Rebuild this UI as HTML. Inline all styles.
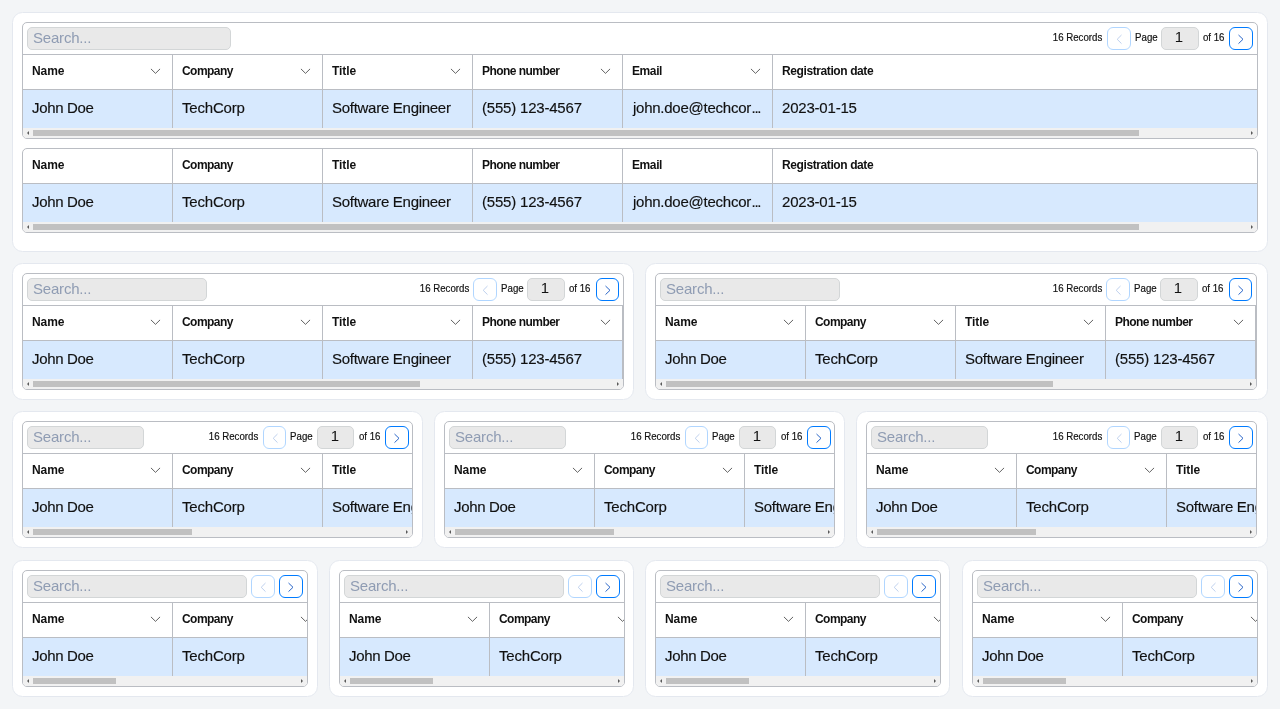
<!DOCTYPE html>
<html><head><meta charset="utf-8"><title>Tables</title>
<style>
*{box-sizing:border-box;margin:0;padding:0}
html,body{width:1280px;height:709px;overflow:hidden}
body{background:#f3f5f7;font-family:"Liberation Sans",sans-serif;color:#111;position:relative}
.card{will-change:transform;position:absolute;background:#fff;border:1px solid #e4e8ef;border-radius:10.5px}
.frame{position:absolute;left:9px;border:1px solid #babdc3;border-radius:5px;overflow:hidden;background:#fff}
.tb{height:32px;border-bottom:1px solid #babdc3;position:relative;display:flex;align-items:flex-start;justify-content:space-between;padding:4px 4px 0 4px}
.search{height:23px;background:#e9e9e9;border:1px solid #d3d6d7;border-radius:5px;padding-left:5px;padding-bottom:2px;display:flex;align-items:center;color:#8f9cb3;font-size:15px;letter-spacing:-0.2px}
.pager{display:flex;align-items:center;gap:4px;height:23px}
.pt{font-size:11px;color:#111;white-space:nowrap;position:relative;top:-1px;height:13px}
.pt em{-webkit-text-stroke:0.2px #111;font-style:normal;position:absolute;right:0;top:0;line-height:13px;transform:scaleX(.88);transform-origin:100% 50%}
.rec{width:49px}.pg{width:22px;left:0.5px}.of{width:22px}
.rec em,.of em{right:1px}
.pb{width:24px;height:23px;border:1px solid #007bff;border-radius:6px;display:flex;align-items:center;justify-content:center;background:#fff}
.pb.prev{opacity:.3}
.pi{width:38px;height:23px;background:#e9e9e9;border:1px solid #d3d6d7;border-radius:5px;display:flex;align-items:center;justify-content:center;font-size:15px;padding:0 2px 4px 0}
.hr,.dr{display:flex;width:100%;overflow:hidden}
.hr{height:35px;border-bottom:1px solid #babdc3}
.dr{height:38px;background:#d7e9fe}
.hc,.dc{flex:0 0 150px;width:150px;border-right:1px solid #babdc3;padding-left:9px;display:flex;align-items:center;position:relative;white-space:nowrap;overflow:hidden}
.hc{padding-bottom:2px;font-weight:bold;font-size:12px;letter-spacing:-0.4px}
.dc{-webkit-text-stroke:0.15px #111;padding-bottom:4px;font-size:15px;letter-spacing:-0.2px}
.chev{position:absolute;right:11px;top:13px}
.sb{height:10px;background:#f1f1f1;position:relative}
.sb b{position:absolute;left:10px;top:2px;height:6px;background:#c1c1c1}
.sb i{position:absolute;top:2.75px;width:0;height:0;border:2.25px solid transparent}
.sb .al{left:3.75px;border-right:2.5px solid #5a5a5a;border-left:none}
.sb .ar{right:3.75px;border-left:2.5px solid #5a5a5a;border-right:none}
.hc:nth-child(1){letter-spacing:-0.1px}.hc:nth-child(2){letter-spacing:-0.55px}.hc:nth-child(3){letter-spacing:-0.1px}.hc:nth-child(4){letter-spacing:-0.55px}
.dc:nth-child(1){letter-spacing:-0.35px}.dc:nth-child(3){letter-spacing:-0.28px}.dc:nth-child(5){letter-spacing:-0.25px;padding-left:10px}
.dc u{text-decoration:none;letter-spacing:-1.3px;margin-left:0.6px}
.r3 .pb.prev{width:23px;margin-right:1px}.r3 .pg{left:-0.5px}.r3 .pi{width:37px;margin-right:1px;padding-right:1px}
.r2 .pb.next{width:23px;margin-left:1px}.r2 .rec em{right:0}

</style></head>
<body>
<div class="card" style="left:12px;top:12px;width:1256px;height:240px">
<div class="frame" style="top:9px;width:1236px">
<div class="tb">
<div class="search" style="width:204px"><span>Search...</span></div>
<div class="pager">
<span class="pt rec"><em>16 Records</em></span>
<span class="pb prev"><svg width="8" height="12" viewBox="0 0 8 12"><path d="M6.5 2.0 L2.2 6.3 L6.5 10.6" fill="none" stroke="#2a66c8" stroke-width="1"/></svg></span>
<span class="pt pg"><em>Page</em></span><span class="pi">1</span><span class="pt of"><em>of 16</em></span>
<span class="pb next"><svg width="8" height="12" viewBox="0 0 8 12"><path d="M1.5 2.0 L6.0 6.3 L1.5 10.6" fill="none" stroke="#2a66c8" stroke-width="1"/></svg></span>
</div></div>
<div class="hr">
<div class="hc"><span>Name</span><svg class="chev" width="11" height="7" viewBox="0 0 11 7"><path d="M0.95 0.9 L5.5 5.35 L10.05 0.9" fill="none" stroke="#444" stroke-width="0.85"/></svg></div>
<div class="hc"><span>Company</span><svg class="chev" width="11" height="7" viewBox="0 0 11 7"><path d="M0.95 0.9 L5.5 5.35 L10.05 0.9" fill="none" stroke="#444" stroke-width="0.85"/></svg></div>
<div class="hc"><span>Title</span><svg class="chev" width="11" height="7" viewBox="0 0 11 7"><path d="M0.95 0.9 L5.5 5.35 L10.05 0.9" fill="none" stroke="#444" stroke-width="0.85"/></svg></div>
<div class="hc"><span>Phone number</span><svg class="chev" width="11" height="7" viewBox="0 0 11 7"><path d="M0.95 0.9 L5.5 5.35 L10.05 0.9" fill="none" stroke="#444" stroke-width="0.85"/></svg></div>
<div class="hc"><span>Email</span><svg class="chev" width="11" height="7" viewBox="0 0 11 7"><path d="M0.95 0.9 L5.5 5.35 L10.05 0.9" fill="none" stroke="#444" stroke-width="0.85"/></svg></div>
<div class="hc" style="flex:1 0 150px;border-right:none"><span>Registration date</span></div>
</div>
<div class="dr">
<div class="dc"><span>John Doe</span></div>
<div class="dc"><span>TechCorp</span></div>
<div class="dc"><span>Software Engineer</span></div>
<div class="dc"><span>(555) 123-4567</span></div>
<div class="dc"><span>john.doe@techcor<u>...</u></span></div>
<div class="dc" style="flex:1 0 150px;border-right:none"><span>2023-01-15</span></div>
</div>
<div class="sb"><i class="al"></i><b style="width:1106px"></b><i class="ar"></i></div>
</div><div class="frame" style="top:135px;width:1236px">
<div class="hr">
<div class="hc"><span>Name</span></div>
<div class="hc"><span>Company</span></div>
<div class="hc"><span>Title</span></div>
<div class="hc"><span>Phone number</span></div>
<div class="hc"><span>Email</span></div>
<div class="hc" style="flex:1 0 150px;border-right:none"><span>Registration date</span></div>
</div>
<div class="dr">
<div class="dc"><span>John Doe</span></div>
<div class="dc"><span>TechCorp</span></div>
<div class="dc"><span>Software Engineer</span></div>
<div class="dc"><span>(555) 123-4567</span></div>
<div class="dc"><span>john.doe@techcor<u>...</u></span></div>
<div class="dc" style="flex:1 0 150px;border-right:none"><span>2023-01-15</span></div>
</div>
<div class="sb"><i class="al"></i><b style="width:1106px"></b><i class="ar"></i></div>
</div>
</div>
<div class="card" style="left:12px;top:263px;width:622px;height:137px">
<div class="frame r2" style="top:9px;width:602px">
<div class="tb">
<div class="search" style="width:180px"><span>Search...</span></div>
<div class="pager">
<span class="pt rec"><em>16 Records</em></span>
<span class="pb prev"><svg width="8" height="12" viewBox="0 0 8 12"><path d="M6.5 2.0 L2.2 6.3 L6.5 10.6" fill="none" stroke="#2a66c8" stroke-width="1"/></svg></span>
<span class="pt pg"><em>Page</em></span><span class="pi">1</span><span class="pt of"><em>of 16</em></span>
<span class="pb next"><svg width="8" height="12" viewBox="0 0 8 12"><path d="M1.5 2.0 L6.0 6.3 L1.5 10.6" fill="none" stroke="#2a66c8" stroke-width="1"/></svg></span>
</div></div>
<div class="hr">
<div class="hc"><span>Name</span><svg class="chev" width="11" height="7" viewBox="0 0 11 7"><path d="M0.95 0.9 L5.5 5.35 L10.05 0.9" fill="none" stroke="#444" stroke-width="0.85"/></svg></div>
<div class="hc"><span>Company</span><svg class="chev" width="11" height="7" viewBox="0 0 11 7"><path d="M0.95 0.9 L5.5 5.35 L10.05 0.9" fill="none" stroke="#444" stroke-width="0.85"/></svg></div>
<div class="hc"><span>Title</span><svg class="chev" width="11" height="7" viewBox="0 0 11 7"><path d="M0.95 0.9 L5.5 5.35 L10.05 0.9" fill="none" stroke="#444" stroke-width="0.85"/></svg></div>
<div class="hc"><span>Phone number</span><svg class="chev" width="11" height="7" viewBox="0 0 11 7"><path d="M0.95 0.9 L5.5 5.35 L10.05 0.9" fill="none" stroke="#444" stroke-width="0.85"/></svg></div>
<div class="hc"><span>Email</span><svg class="chev" width="11" height="7" viewBox="0 0 11 7"><path d="M0.95 0.9 L5.5 5.35 L10.05 0.9" fill="none" stroke="#444" stroke-width="0.85"/></svg></div>
<div class="hc"><span>Registration date</span></div>
</div>
<div class="dr">
<div class="dc"><span>John Doe</span></div>
<div class="dc"><span>TechCorp</span></div>
<div class="dc"><span>Software Engineer</span></div>
<div class="dc"><span>(555) 123-4567</span></div>
<div class="dc"><span>john.doe@techcor<u>...</u></span></div>
<div class="dc"><span>2023-01-15</span></div>
</div>
<div class="sb"><i class="al"></i><b style="width:387px"></b><i class="ar"></i></div>
</div>
</div>
<div class="card" style="left:645px;top:263px;width:623px;height:137px">
<div class="frame r2" style="top:9px;width:602px">
<div class="tb">
<div class="search" style="width:180px"><span>Search...</span></div>
<div class="pager">
<span class="pt rec"><em>16 Records</em></span>
<span class="pb prev"><svg width="8" height="12" viewBox="0 0 8 12"><path d="M6.5 2.0 L2.2 6.3 L6.5 10.6" fill="none" stroke="#2a66c8" stroke-width="1"/></svg></span>
<span class="pt pg"><em>Page</em></span><span class="pi">1</span><span class="pt of"><em>of 16</em></span>
<span class="pb next"><svg width="8" height="12" viewBox="0 0 8 12"><path d="M1.5 2.0 L6.0 6.3 L1.5 10.6" fill="none" stroke="#2a66c8" stroke-width="1"/></svg></span>
</div></div>
<div class="hr">
<div class="hc"><span>Name</span><svg class="chev" width="11" height="7" viewBox="0 0 11 7"><path d="M0.95 0.9 L5.5 5.35 L10.05 0.9" fill="none" stroke="#444" stroke-width="0.85"/></svg></div>
<div class="hc"><span>Company</span><svg class="chev" width="11" height="7" viewBox="0 0 11 7"><path d="M0.95 0.9 L5.5 5.35 L10.05 0.9" fill="none" stroke="#444" stroke-width="0.85"/></svg></div>
<div class="hc"><span>Title</span><svg class="chev" width="11" height="7" viewBox="0 0 11 7"><path d="M0.95 0.9 L5.5 5.35 L10.05 0.9" fill="none" stroke="#444" stroke-width="0.85"/></svg></div>
<div class="hc"><span>Phone number</span><svg class="chev" width="11" height="7" viewBox="0 0 11 7"><path d="M0.95 0.9 L5.5 5.35 L10.05 0.9" fill="none" stroke="#444" stroke-width="0.85"/></svg></div>
<div class="hc"><span>Email</span><svg class="chev" width="11" height="7" viewBox="0 0 11 7"><path d="M0.95 0.9 L5.5 5.35 L10.05 0.9" fill="none" stroke="#444" stroke-width="0.85"/></svg></div>
<div class="hc"><span>Registration date</span></div>
</div>
<div class="dr">
<div class="dc"><span>John Doe</span></div>
<div class="dc"><span>TechCorp</span></div>
<div class="dc"><span>Software Engineer</span></div>
<div class="dc"><span>(555) 123-4567</span></div>
<div class="dc"><span>john.doe@techcor<u>...</u></span></div>
<div class="dc"><span>2023-01-15</span></div>
</div>
<div class="sb"><i class="al"></i><b style="width:387px"></b><i class="ar"></i></div>
</div>
</div>
<div class="card" style="left:12px;top:411px;width:411px;height:137px">
<div class="frame r3" style="top:9px;width:391px">
<div class="tb">
<div class="search" style="width:117px"><span>Search...</span></div>
<div class="pager" style="margin-right:-1px">
<span class="pt rec"><em>16 Records</em></span>
<span class="pb prev"><svg width="8" height="12" viewBox="0 0 8 12"><path d="M6.5 2.0 L2.2 6.3 L6.5 10.6" fill="none" stroke="#2a66c8" stroke-width="1"/></svg></span>
<span class="pt pg"><em>Page</em></span><span class="pi">1</span><span class="pt of"><em>of 16</em></span>
<span class="pb next"><svg width="8" height="12" viewBox="0 0 8 12"><path d="M1.5 2.0 L6.0 6.3 L1.5 10.6" fill="none" stroke="#2a66c8" stroke-width="1"/></svg></span>
</div></div>
<div class="hr">
<div class="hc"><span>Name</span><svg class="chev" width="11" height="7" viewBox="0 0 11 7"><path d="M0.95 0.9 L5.5 5.35 L10.05 0.9" fill="none" stroke="#444" stroke-width="0.85"/></svg></div>
<div class="hc"><span>Company</span><svg class="chev" width="11" height="7" viewBox="0 0 11 7"><path d="M0.95 0.9 L5.5 5.35 L10.05 0.9" fill="none" stroke="#444" stroke-width="0.85"/></svg></div>
<div class="hc"><span>Title</span><svg class="chev" width="11" height="7" viewBox="0 0 11 7"><path d="M0.95 0.9 L5.5 5.35 L10.05 0.9" fill="none" stroke="#444" stroke-width="0.85"/></svg></div>
<div class="hc"><span>Phone number</span><svg class="chev" width="11" height="7" viewBox="0 0 11 7"><path d="M0.95 0.9 L5.5 5.35 L10.05 0.9" fill="none" stroke="#444" stroke-width="0.85"/></svg></div>
<div class="hc"><span>Email</span><svg class="chev" width="11" height="7" viewBox="0 0 11 7"><path d="M0.95 0.9 L5.5 5.35 L10.05 0.9" fill="none" stroke="#444" stroke-width="0.85"/></svg></div>
<div class="hc"><span>Registration date</span></div>
</div>
<div class="dr">
<div class="dc"><span>John Doe</span></div>
<div class="dc"><span>TechCorp</span></div>
<div class="dc"><span>Software Engineer</span></div>
<div class="dc"><span>(555) 123-4567</span></div>
<div class="dc"><span>john.doe@techcor<u>...</u></span></div>
<div class="dc"><span>2023-01-15</span></div>
</div>
<div class="sb"><i class="al"></i><b style="width:159px"></b><i class="ar"></i></div>
</div>
</div>
<div class="card" style="left:434px;top:411px;width:411px;height:137px">
<div class="frame r3" style="top:9px;width:391px">
<div class="tb">
<div class="search" style="width:117px"><span>Search...</span></div>
<div class="pager" style="margin-right:-1px">
<span class="pt rec"><em>16 Records</em></span>
<span class="pb prev"><svg width="8" height="12" viewBox="0 0 8 12"><path d="M6.5 2.0 L2.2 6.3 L6.5 10.6" fill="none" stroke="#2a66c8" stroke-width="1"/></svg></span>
<span class="pt pg"><em>Page</em></span><span class="pi">1</span><span class="pt of"><em>of 16</em></span>
<span class="pb next"><svg width="8" height="12" viewBox="0 0 8 12"><path d="M1.5 2.0 L6.0 6.3 L1.5 10.6" fill="none" stroke="#2a66c8" stroke-width="1"/></svg></span>
</div></div>
<div class="hr">
<div class="hc"><span>Name</span><svg class="chev" width="11" height="7" viewBox="0 0 11 7"><path d="M0.95 0.9 L5.5 5.35 L10.05 0.9" fill="none" stroke="#444" stroke-width="0.85"/></svg></div>
<div class="hc"><span>Company</span><svg class="chev" width="11" height="7" viewBox="0 0 11 7"><path d="M0.95 0.9 L5.5 5.35 L10.05 0.9" fill="none" stroke="#444" stroke-width="0.85"/></svg></div>
<div class="hc"><span>Title</span><svg class="chev" width="11" height="7" viewBox="0 0 11 7"><path d="M0.95 0.9 L5.5 5.35 L10.05 0.9" fill="none" stroke="#444" stroke-width="0.85"/></svg></div>
<div class="hc"><span>Phone number</span><svg class="chev" width="11" height="7" viewBox="0 0 11 7"><path d="M0.95 0.9 L5.5 5.35 L10.05 0.9" fill="none" stroke="#444" stroke-width="0.85"/></svg></div>
<div class="hc"><span>Email</span><svg class="chev" width="11" height="7" viewBox="0 0 11 7"><path d="M0.95 0.9 L5.5 5.35 L10.05 0.9" fill="none" stroke="#444" stroke-width="0.85"/></svg></div>
<div class="hc"><span>Registration date</span></div>
</div>
<div class="dr">
<div class="dc"><span>John Doe</span></div>
<div class="dc"><span>TechCorp</span></div>
<div class="dc"><span>Software Engineer</span></div>
<div class="dc"><span>(555) 123-4567</span></div>
<div class="dc"><span>john.doe@techcor<u>...</u></span></div>
<div class="dc"><span>2023-01-15</span></div>
</div>
<div class="sb"><i class="al"></i><b style="width:159px"></b><i class="ar"></i></div>
</div>
</div>
<div class="card" style="left:856px;top:411px;width:412px;height:137px">
<div class="frame r3" style="top:9px;width:391px">
<div class="tb">
<div class="search" style="width:117px"><span>Search...</span></div>
<div class="pager" style="margin-right:-1px">
<span class="pt rec"><em>16 Records</em></span>
<span class="pb prev"><svg width="8" height="12" viewBox="0 0 8 12"><path d="M6.5 2.0 L2.2 6.3 L6.5 10.6" fill="none" stroke="#2a66c8" stroke-width="1"/></svg></span>
<span class="pt pg"><em>Page</em></span><span class="pi">1</span><span class="pt of"><em>of 16</em></span>
<span class="pb next"><svg width="8" height="12" viewBox="0 0 8 12"><path d="M1.5 2.0 L6.0 6.3 L1.5 10.6" fill="none" stroke="#2a66c8" stroke-width="1"/></svg></span>
</div></div>
<div class="hr">
<div class="hc"><span>Name</span><svg class="chev" width="11" height="7" viewBox="0 0 11 7"><path d="M0.95 0.9 L5.5 5.35 L10.05 0.9" fill="none" stroke="#444" stroke-width="0.85"/></svg></div>
<div class="hc"><span>Company</span><svg class="chev" width="11" height="7" viewBox="0 0 11 7"><path d="M0.95 0.9 L5.5 5.35 L10.05 0.9" fill="none" stroke="#444" stroke-width="0.85"/></svg></div>
<div class="hc"><span>Title</span><svg class="chev" width="11" height="7" viewBox="0 0 11 7"><path d="M0.95 0.9 L5.5 5.35 L10.05 0.9" fill="none" stroke="#444" stroke-width="0.85"/></svg></div>
<div class="hc"><span>Phone number</span><svg class="chev" width="11" height="7" viewBox="0 0 11 7"><path d="M0.95 0.9 L5.5 5.35 L10.05 0.9" fill="none" stroke="#444" stroke-width="0.85"/></svg></div>
<div class="hc"><span>Email</span><svg class="chev" width="11" height="7" viewBox="0 0 11 7"><path d="M0.95 0.9 L5.5 5.35 L10.05 0.9" fill="none" stroke="#444" stroke-width="0.85"/></svg></div>
<div class="hc"><span>Registration date</span></div>
</div>
<div class="dr">
<div class="dc"><span>John Doe</span></div>
<div class="dc"><span>TechCorp</span></div>
<div class="dc"><span>Software Engineer</span></div>
<div class="dc"><span>(555) 123-4567</span></div>
<div class="dc"><span>john.doe@techcor<u>...</u></span></div>
<div class="dc"><span>2023-01-15</span></div>
</div>
<div class="sb"><i class="al"></i><b style="width:159px"></b><i class="ar"></i></div>
</div>
</div>
<div class="card" style="left:12px;top:560px;width:306px;height:137px">
<div class="frame" style="top:9px;width:286px">
<div class="tb">
<div class="search" style="width:220px"><span>Search...</span></div>
<div class="pager">
<span class="pb prev"><svg width="8" height="12" viewBox="0 0 8 12"><path d="M6.5 2.0 L2.2 6.3 L6.5 10.6" fill="none" stroke="#2a66c8" stroke-width="1"/></svg></span>
<span class="pb next"><svg width="8" height="12" viewBox="0 0 8 12"><path d="M1.5 2.0 L6.0 6.3 L1.5 10.6" fill="none" stroke="#2a66c8" stroke-width="1"/></svg></span>
</div></div>
<div class="hr">
<div class="hc"><span>Name</span><svg class="chev" width="11" height="7" viewBox="0 0 11 7"><path d="M0.95 0.9 L5.5 5.35 L10.05 0.9" fill="none" stroke="#444" stroke-width="0.85"/></svg></div>
<div class="hc"><span>Company</span><svg class="chev" width="11" height="7" viewBox="0 0 11 7"><path d="M0.95 0.9 L5.5 5.35 L10.05 0.9" fill="none" stroke="#444" stroke-width="0.85"/></svg></div>
<div class="hc"><span>Title</span><svg class="chev" width="11" height="7" viewBox="0 0 11 7"><path d="M0.95 0.9 L5.5 5.35 L10.05 0.9" fill="none" stroke="#444" stroke-width="0.85"/></svg></div>
<div class="hc"><span>Phone number</span><svg class="chev" width="11" height="7" viewBox="0 0 11 7"><path d="M0.95 0.9 L5.5 5.35 L10.05 0.9" fill="none" stroke="#444" stroke-width="0.85"/></svg></div>
<div class="hc"><span>Email</span><svg class="chev" width="11" height="7" viewBox="0 0 11 7"><path d="M0.95 0.9 L5.5 5.35 L10.05 0.9" fill="none" stroke="#444" stroke-width="0.85"/></svg></div>
<div class="hc"><span>Registration date</span></div>
</div>
<div class="dr">
<div class="dc"><span>John Doe</span></div>
<div class="dc"><span>TechCorp</span></div>
<div class="dc"><span>Software Engineer</span></div>
<div class="dc"><span>(555) 123-4567</span></div>
<div class="dc"><span>john.doe@techcor<u>...</u></span></div>
<div class="dc"><span>2023-01-15</span></div>
</div>
<div class="sb"><i class="al"></i><b style="width:83px"></b><i class="ar"></i></div>
</div>
</div>
<div class="card" style="left:329px;top:560px;width:305px;height:137px">
<div class="frame" style="top:9px;width:286px">
<div class="tb">
<div class="search" style="width:220px"><span>Search...</span></div>
<div class="pager">
<span class="pb prev"><svg width="8" height="12" viewBox="0 0 8 12"><path d="M6.5 2.0 L2.2 6.3 L6.5 10.6" fill="none" stroke="#2a66c8" stroke-width="1"/></svg></span>
<span class="pb next"><svg width="8" height="12" viewBox="0 0 8 12"><path d="M1.5 2.0 L6.0 6.3 L1.5 10.6" fill="none" stroke="#2a66c8" stroke-width="1"/></svg></span>
</div></div>
<div class="hr">
<div class="hc"><span>Name</span><svg class="chev" width="11" height="7" viewBox="0 0 11 7"><path d="M0.95 0.9 L5.5 5.35 L10.05 0.9" fill="none" stroke="#444" stroke-width="0.85"/></svg></div>
<div class="hc"><span>Company</span><svg class="chev" width="11" height="7" viewBox="0 0 11 7"><path d="M0.95 0.9 L5.5 5.35 L10.05 0.9" fill="none" stroke="#444" stroke-width="0.85"/></svg></div>
<div class="hc"><span>Title</span><svg class="chev" width="11" height="7" viewBox="0 0 11 7"><path d="M0.95 0.9 L5.5 5.35 L10.05 0.9" fill="none" stroke="#444" stroke-width="0.85"/></svg></div>
<div class="hc"><span>Phone number</span><svg class="chev" width="11" height="7" viewBox="0 0 11 7"><path d="M0.95 0.9 L5.5 5.35 L10.05 0.9" fill="none" stroke="#444" stroke-width="0.85"/></svg></div>
<div class="hc"><span>Email</span><svg class="chev" width="11" height="7" viewBox="0 0 11 7"><path d="M0.95 0.9 L5.5 5.35 L10.05 0.9" fill="none" stroke="#444" stroke-width="0.85"/></svg></div>
<div class="hc"><span>Registration date</span></div>
</div>
<div class="dr">
<div class="dc"><span>John Doe</span></div>
<div class="dc"><span>TechCorp</span></div>
<div class="dc"><span>Software Engineer</span></div>
<div class="dc"><span>(555) 123-4567</span></div>
<div class="dc"><span>john.doe@techcor<u>...</u></span></div>
<div class="dc"><span>2023-01-15</span></div>
</div>
<div class="sb"><i class="al"></i><b style="width:83px"></b><i class="ar"></i></div>
</div>
</div>
<div class="card" style="left:645px;top:560px;width:305px;height:137px">
<div class="frame" style="top:9px;width:286px">
<div class="tb">
<div class="search" style="width:220px"><span>Search...</span></div>
<div class="pager">
<span class="pb prev"><svg width="8" height="12" viewBox="0 0 8 12"><path d="M6.5 2.0 L2.2 6.3 L6.5 10.6" fill="none" stroke="#2a66c8" stroke-width="1"/></svg></span>
<span class="pb next"><svg width="8" height="12" viewBox="0 0 8 12"><path d="M1.5 2.0 L6.0 6.3 L1.5 10.6" fill="none" stroke="#2a66c8" stroke-width="1"/></svg></span>
</div></div>
<div class="hr">
<div class="hc"><span>Name</span><svg class="chev" width="11" height="7" viewBox="0 0 11 7"><path d="M0.95 0.9 L5.5 5.35 L10.05 0.9" fill="none" stroke="#444" stroke-width="0.85"/></svg></div>
<div class="hc"><span>Company</span><svg class="chev" width="11" height="7" viewBox="0 0 11 7"><path d="M0.95 0.9 L5.5 5.35 L10.05 0.9" fill="none" stroke="#444" stroke-width="0.85"/></svg></div>
<div class="hc"><span>Title</span><svg class="chev" width="11" height="7" viewBox="0 0 11 7"><path d="M0.95 0.9 L5.5 5.35 L10.05 0.9" fill="none" stroke="#444" stroke-width="0.85"/></svg></div>
<div class="hc"><span>Phone number</span><svg class="chev" width="11" height="7" viewBox="0 0 11 7"><path d="M0.95 0.9 L5.5 5.35 L10.05 0.9" fill="none" stroke="#444" stroke-width="0.85"/></svg></div>
<div class="hc"><span>Email</span><svg class="chev" width="11" height="7" viewBox="0 0 11 7"><path d="M0.95 0.9 L5.5 5.35 L10.05 0.9" fill="none" stroke="#444" stroke-width="0.85"/></svg></div>
<div class="hc"><span>Registration date</span></div>
</div>
<div class="dr">
<div class="dc"><span>John Doe</span></div>
<div class="dc"><span>TechCorp</span></div>
<div class="dc"><span>Software Engineer</span></div>
<div class="dc"><span>(555) 123-4567</span></div>
<div class="dc"><span>john.doe@techcor<u>...</u></span></div>
<div class="dc"><span>2023-01-15</span></div>
</div>
<div class="sb"><i class="al"></i><b style="width:83px"></b><i class="ar"></i></div>
</div>
</div>
<div class="card" style="left:962px;top:560px;width:306px;height:137px">
<div class="frame" style="top:9px;width:286px">
<div class="tb">
<div class="search" style="width:220px"><span>Search...</span></div>
<div class="pager">
<span class="pb prev"><svg width="8" height="12" viewBox="0 0 8 12"><path d="M6.5 2.0 L2.2 6.3 L6.5 10.6" fill="none" stroke="#2a66c8" stroke-width="1"/></svg></span>
<span class="pb next"><svg width="8" height="12" viewBox="0 0 8 12"><path d="M1.5 2.0 L6.0 6.3 L1.5 10.6" fill="none" stroke="#2a66c8" stroke-width="1"/></svg></span>
</div></div>
<div class="hr">
<div class="hc"><span>Name</span><svg class="chev" width="11" height="7" viewBox="0 0 11 7"><path d="M0.95 0.9 L5.5 5.35 L10.05 0.9" fill="none" stroke="#444" stroke-width="0.85"/></svg></div>
<div class="hc"><span>Company</span><svg class="chev" width="11" height="7" viewBox="0 0 11 7"><path d="M0.95 0.9 L5.5 5.35 L10.05 0.9" fill="none" stroke="#444" stroke-width="0.85"/></svg></div>
<div class="hc"><span>Title</span><svg class="chev" width="11" height="7" viewBox="0 0 11 7"><path d="M0.95 0.9 L5.5 5.35 L10.05 0.9" fill="none" stroke="#444" stroke-width="0.85"/></svg></div>
<div class="hc"><span>Phone number</span><svg class="chev" width="11" height="7" viewBox="0 0 11 7"><path d="M0.95 0.9 L5.5 5.35 L10.05 0.9" fill="none" stroke="#444" stroke-width="0.85"/></svg></div>
<div class="hc"><span>Email</span><svg class="chev" width="11" height="7" viewBox="0 0 11 7"><path d="M0.95 0.9 L5.5 5.35 L10.05 0.9" fill="none" stroke="#444" stroke-width="0.85"/></svg></div>
<div class="hc"><span>Registration date</span></div>
</div>
<div class="dr">
<div class="dc"><span>John Doe</span></div>
<div class="dc"><span>TechCorp</span></div>
<div class="dc"><span>Software Engineer</span></div>
<div class="dc"><span>(555) 123-4567</span></div>
<div class="dc"><span>john.doe@techcor<u>...</u></span></div>
<div class="dc"><span>2023-01-15</span></div>
</div>
<div class="sb"><i class="al"></i><b style="width:83px"></b><i class="ar"></i></div>
</div>
</div>
</body></html>
